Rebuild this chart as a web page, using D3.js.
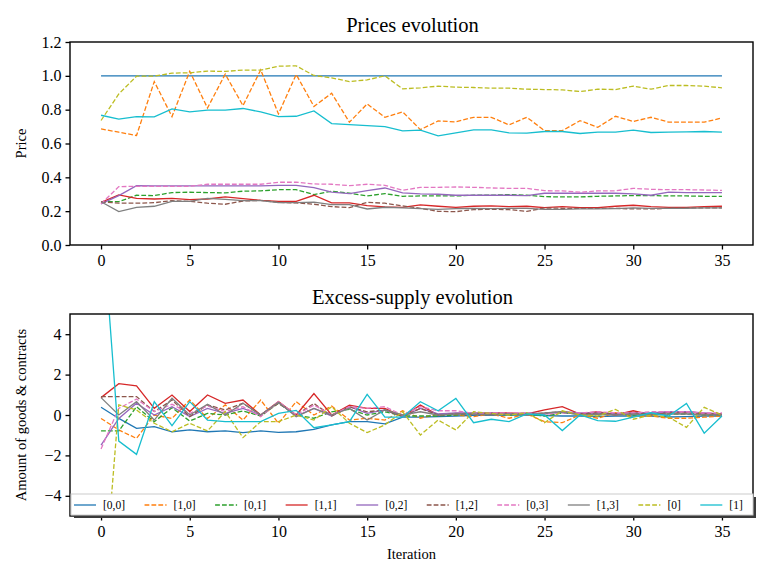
<!DOCTYPE html>
<html>
<head>
<meta charset="utf-8">
<script src="https://cdn.jsdelivr.net/npm/d3@7"></script>
<style>
  body { margin: 0; background: #fff; }
  text { font-family: "Liberation Serif", "DejaVu Serif", serif; }
</style>
</head>
<body>
<svg id="chart"></svg>
<script>
let width = 775
let height = 581

// iterations 0..35
let iterations = d3.range(0, 36)
let seriesNames = ["[0,0]", "[1,0]", "[0,1]", "[1,1]", "[0,2]", "[1,2]", "[0,3]", "[1,3]", "[0]", "[1]"]
let seriesColors = ["#1f77b4", "#ff7f0e", "#2ca02c", "#d62728", "#9467bd", "#8c564b", "#e377c2", "#7f7f7f", "#bcbd22", "#17becf"]
let seriesDashed = [false, true, true, false, false, true, true, false, true, false]

let xTicks = [0, 5, 10, 15, 20, 25, 30, 35]
let priceTicks = [0.0, 0.2, 0.4, 0.6, 0.8, 1.0, 1.2]
let excessTicks = [-4, -2, 0, 2, 4]

// prices
let price00 = iterations.map(function(){ return 1.0 })
let price10 = [0.686,0.667,0.647,0.966,0.759,1.027,0.81,1.01,0.824,1.035,0.775,1.008,0.819,0.897,0.726,0.834,0.755,0.787,0.682,0.733,0.728,0.755,0.755,0.71,0.755,0.676,0.676,0.735,0.696,0.761,0.73,0.755,0.726,0.726,0.726,0.751]
let price01 = [0.256,0.256,0.294,0.292,0.310,0.312,0.310,0.308,0.318,0.320,0.327,0.327,0.298,0.318,0.306,0.290,0.304,0.288,0.290,0.290,0.290,0.294,0.294,0.298,0.294,0.286,0.284,0.284,0.288,0.290,0.292,0.292,0.290,0.290,0.288,0.288]
let price11 = [0.252,0.296,0.276,0.272,0.276,0.268,0.272,0.284,0.274,0.264,0.258,0.258,0.294,0.249,0.249,0.233,0.225,0.223,0.237,0.229,0.223,0.229,0.231,0.227,0.229,0.221,0.227,0.221,0.221,0.229,0.235,0.227,0.223,0.223,0.227,0.229]
let price02 = [0.243,0.292,0.351,0.349,0.349,0.349,0.349,0.349,0.349,0.349,0.353,0.353,0.339,0.312,0.304,0.321,0.337,0.308,0.302,0.300,0.294,0.294,0.294,0.294,0.292,0.306,0.306,0.306,0.306,0.306,0.302,0.294,0.312,0.310,0.310,0.310]
let price12 = [0.256,0.247,0.247,0.250,0.262,0.258,0.247,0.241,0.260,0.264,0.252,0.249,0.241,0.227,0.221,0.252,0.247,0.231,0.217,0.199,0.197,0.209,0.211,0.209,0.199,0.219,0.217,0.217,0.217,0.217,0.213,0.213,0.217,0.219,0.219,0.219]
let price03 = [0.243,0.345,0.347,0.347,0.347,0.347,0.359,0.359,0.359,0.359,0.371,0.371,0.361,0.359,0.351,0.359,0.353,0.323,0.341,0.341,0.343,0.341,0.337,0.335,0.335,0.321,0.320,0.312,0.320,0.320,0.335,0.329,0.327,0.327,0.325,0.323]
let price13 = [0.256,0.197,0.223,0.229,0.258,0.258,0.276,0.270,0.262,0.262,0.250,0.250,0.254,0.239,0.239,0.213,0.223,0.219,0.215,0.211,0.215,0.217,0.215,0.217,0.217,0.211,0.211,0.213,0.213,0.215,0.219,0.217,0.217,0.217,0.219,0.219]
let price0 = [0.736,0.893,0.998,0.998,1.016,1.018,1.028,1.026,1.034,1.034,1.057,1.059,1.002,0.988,0.966,0.976,1.0,0.923,0.929,0.939,0.933,0.931,0.927,0.927,0.921,0.919,0.917,0.907,0.921,0.919,0.939,0.921,0.943,0.943,0.939,0.929]
let price1 = [0.767,0.744,0.759,0.757,0.805,0.787,0.797,0.797,0.807,0.787,0.759,0.761,0.793,0.718,0.712,0.706,0.700,0.675,0.679,0.645,0.663,0.680,0.680,0.663,0.661,0.671,0.671,0.659,0.667,0.667,0.679,0.665,0.667,0.669,0.671,0.667]

// excess supply
let excess00 = [0.38,-0.17,-0.66,-0.58,-0.83,-0.74,-0.83,-0.79,-0.87,-0.79,-0.86,-0.83,-0.71,-0.49,-0.33,-0.33,-0.44,-0.11,-0.11,-0.08,-0.05,-0.02,-0.02,0,0,-0.03,-0.05,-0.05,-0.08,-0.05,-0.05,-0.05,-0.1,-0.08,-0.05,-0.05]
let excess10 = [-0.17,-0.74,-1.16,0,-0.17,0.74,-0.17,0.5,-0.25,0.74,-0.41,0.66,0,0.44,-0.25,-0.16,-0.25,0.21,-0.16,0.05,0,-0.08,0.05,-0.16,0.05,-0.33,-0.38,0,-0.16,0.11,-0.08,-0.05,-0.16,-0.16,-0.11,-0.05]
let excess01 = [-0.79,-0.79,0.41,-0.33,0.36,-0.3,0.08,0,0.2,-0.05,0.58,0,-0.16,0.16,0.28,0,0.16,-0.05,-0.05,-0.05,0,0.05,0.05,0,0.05,-0.05,0.1,0.05,0,0.05,0,0.05,0.05,0.05,0,0]
let excess11 = [0.86,1.55,1.44,0.33,0.99,0.17,0.99,0.58,0.74,0,0.66,0,1.06,0,0.49,0.33,0.33,-0.08,0.49,0,0.08,0.08,0.11,0.11,0.05,0.25,0.41,0.05,0.16,0,0.21,0,0.16,0.16,0.08,0.05]
let excess02 = [-1.49,-0.17,0.58,0,0.41,-0.08,0.33,0.08,0.33,0,0.63,-0.05,0.33,-0.05,0.41,0.08,0.25,-0.08,0.33,0.05,0.1,0.1,0.1,0.05,0.1,0.05,0.16,0.1,0.1,0.05,0.1,0.1,0.16,0.16,0.1,0.05]
let excess12 = [0.91,0.91,0.91,0.17,0.74,-0.08,0.5,0.25,0.58,0,0.58,0,0.57,-0.05,0.41,0.16,0.25,-0.08,0.33,0,0.05,0.05,0.05,0.05,0.05,0.1,0.16,0.05,0.1,0.05,0.1,0.05,0.1,0.1,0.05,0.05]
let excess03 = [-1.68,0.33,0.79,0.17,0.53,0.08,0.45,0.17,0.41,-0.08,0.66,0,0.49,0,0.41,0.33,0.41,0,0.41,0.21,0.21,0.08,0.1,0.1,0.1,0.05,0.1,0.1,0.16,0.1,0.1,0.16,0.16,0.16,0.1,0.1]
let excess13 = [0.86,0,0.66,-0.25,0.83,0,0.53,0,0.58,0,0.63,-0.08,0.33,0,0.33,-0.25,0.25,0,0.16,0,0.05,0.05,0,0.05,0,0.1,0.16,0,0.05,0,0.05,0,0.05,0.05,0,0]
let excess0 = [-10.5,0.5,0.25,-0.41,-0.83,-0.41,-0.79,0.17,-1.12,-0.33,-0.33,0,-0.25,0.41,-0.41,-0.87,-0.49,0.16,-0.99,-0.25,-0.74,0.16,0.08,0,0.11,-0.38,0.21,0,-0.05,0.28,-0.21,0,-0.11,-0.61,0.38,0]
let excess1 = [10.5,-1.29,-1.95,0.66,-0.53,0.66,-0.25,-0.33,-0.33,-0.33,0.08,0.23,-0.63,-0.49,-0.33,1.02,-0.11,-0.11,0.66,0.21,0.82,-0.38,-0.21,-0.33,0.05,0,-0.77,0,-0.28,-0.31,-0.11,0.11,-0.05,0.57,-0.9,-0.05]

let priceSeries = [price00, price10, price01, price11, price02, price12, price03, price13, price0, price1]
let excessSeries = [excess00, excess10, excess01, excess11, excess02, excess12, excess03, excess13, excess0, excess1]

let svg = d3.select('#chart')
    .attr('width', width)
    .attr('height', height)

let left = 70, right = 753
let serif = '"Liberation Serif", serif'

let x = d3.scaleLinear().domain([-1.75, 36.75]).range([left, right])

function drawPanel(id, top, bottom, yDomain, yTicks, yFormat, data, title, ylabel){
    let y = d3.scaleLinear().domain(yDomain).range([bottom, top])
    let g = svg.append('g')

    g.append('clipPath').attr('id', 'clip' + id)
        .append('rect')
        .attr('x', left).attr('y', top)
        .attr('width', right - left).attr('height', bottom - top)

    let line = d3.line()
        .x(function(d, i){ return x(iterations[i]) })
        .y(function(d){ return y(d) })

    g.append('g')
        .attr('clip-path', 'url(#clip' + id + ')')
        .selectAll('path')
        .data(data)
        .enter()
        .append('path')
        .attr('d', function(d){ return line(d) })
        .attr('fill', 'none')
        .attr('stroke', function(d, i){ return seriesColors[i] })
        .attr('stroke-width', 1.3)
        .attr('stroke-dasharray', function(d, i){ return seriesDashed[i] ? '4.8,2.1' : null })

    // frame
    g.append('rect')
        .attr('x', left).attr('y', top)
        .attr('width', right - left).attr('height', bottom - top)
        .attr('fill', 'none')
        .attr('stroke', '#000')
        .attr('stroke-width', 1.4)

    let xAxis = g.append('g')
        .attr('transform', 'translate(0,' + bottom + ')')
        .call(d3.axisBottom(x).tickValues(xTicks).tickSize(4.5).tickPadding(5).tickFormat(d3.format('d')))
    let yAxis = g.append('g')
        .attr('transform', 'translate(' + left + ',0)')
        .call(d3.axisLeft(y).tickValues(yTicks).tickSize(4.5).tickPadding(4).tickFormat(yFormat))

    ;[xAxis, yAxis].forEach(function(a){
        a.select('.domain').remove()
        a.selectAll('line').attr('stroke', '#000').attr('stroke-width', 1.3)
        a.selectAll('text')
            .attr('fill', '#000')
            .style('font-size', '16px')
            .style('font-family', serif)
    })

    g.append('text')
        .attr('x', (left + right) / 2 + 1)
        .attr('y', top - 10)
        .attr('text-anchor', 'middle')
        .style('font-size', '20.5px')
        .style('font-family', serif)
        .text(title)

    g.append('text')
        .attr('transform', 'translate(26,' + ((top + bottom) / 2) + ') rotate(-90)')
        .attr('text-anchor', 'middle')
        .style('font-size', '14.5px')
        .style('font-family', serif)
        .text(ylabel)

    return y
}

drawPanel('top', 42, 245, [0, 1.2], priceTicks, d3.format('.1f'), priceSeries, 'Prices evolution', 'Price')
drawPanel('bot', 314, 516, [-5, 5], excessTicks, d3.format('d'), excessSeries, 'Excess-supply evolution', 'Amount of goods & contracts')

svg.append('text')
    .attr('x', (left + right) / 2)
    .attr('y', 559)
    .attr('text-anchor', 'middle')
    .style('font-size', '14.5px')
    .style('font-family', serif)
    .text('Iteration')

// legend
let lg = svg.append('g')
let lgX = 71, lgY = 494, lgW = 682, lgH = 21
lg.append('rect')
    .attr('x', lgX + 3).attr('y', lgY + 3)
    .attr('width', lgW).attr('height', lgH)
    .attr('fill', '#3a3a3a')
lg.append('rect')
    .attr('x', lgX).attr('y', lgY)
    .attr('width', lgW).attr('height', lgH)
    .attr('fill', '#fff')
    .attr('stroke', '#cccccc')
    .attr('stroke-width', 1)

let cursor = lgX + 3
seriesNames.forEach(function(name, i){
    let cy = lgY + lgH / 2 + 0.5
    lg.append('line')
        .attr('x1', cursor).attr('x2', cursor + 22)
        .attr('y1', cy).attr('y2', cy)
        .attr('stroke', seriesColors[i])
        .attr('stroke-width', 1.3)
        .attr('stroke-dasharray', seriesDashed[i] ? '4.8,2.1' : null)
    let t = lg.append('text')
        .attr('x', cursor + 29)
        .attr('y', cy + 3.5)
        .style('font-size', '11.5px')
        .style('font-family', serif)
        .text(name)
    cursor = cursor + 29 + t.node().getComputedTextLength() + 19.5
})
</script>
</body>
</html>
